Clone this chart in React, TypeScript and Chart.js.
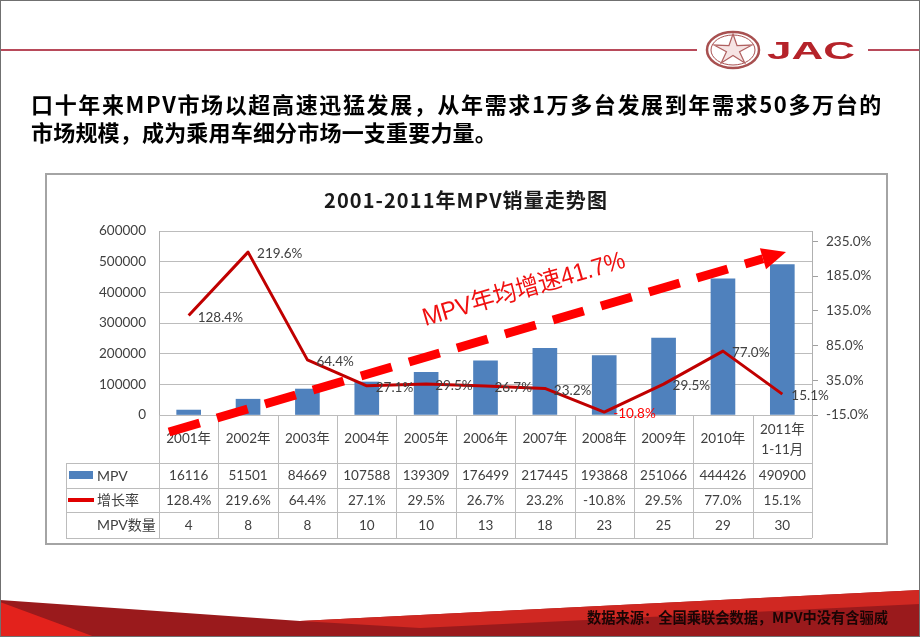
import React, { useEffect, useRef } from 'react';
import { Chart, registerables } from 'chart.js';

Chart.register(...registerables);

// ---------- data ----------
const categories: (string | string[])[] = [
  '2001年', '2002年', '2003年', '2004年', '2005年', '2006年',
  '2007年', '2008年', '2009年', '2010年', ['2011年', '1-11月'],
];
const mpvSales = [16116, 51501, 84669, 107588, 139309, 176499, 217445, 193868, 251066, 444426, 490900];
const growthRate = [128.4, 219.6, 64.4, 27.1, 29.5, 26.7, 23.2, -10.8, 29.5, 77.0, 15.1];
const mpvModelCount = [4, 8, 8, 10, 10, 13, 18, 23, 25, 29, 30];
const salesTicks = [0, 100000, 200000, 300000, 400000, 500000, 600000];
const rateTicks = [-15, 35, 85, 135, 185, 235];
const seriesNames = ['MPV', '增长率', 'MPV数量'];
const headline = [
  '口十年来MPV市场以超高速迅猛发展，从年需求1万多台发展到年需求50多万台的',
  '市场规模，成为乘用车细分市场一支重要力量。',
];
const chartTitle = '2001-2011年MPV销量走势图';
const trendLabel = 'MPV年均增速41.7%';
const sourceNote = '数据来源：全国乘联会数据，MPV中没有含骊威';
const brand = 'JAC';

// ---------- style ----------
const NUM = 'Lato, "Noto Sans CJK SC", sans-serif';
const CJK = '"Noto Sans CJK SC", sans-serif';
const TXT = '#404040';
const GRID = '#bcbcbc';

function fitText(ctx: CanvasRenderingContext2D, text: string, x: number, y: number, width: number) {
  const w = ctx.measureText(text).width;
  ctx.save();
  if (w > width) {
    ctx.translate(x, y);
    ctx.scale(width / w, 1);
    ctx.fillText(text, 0, 0);
  } else {
    const n = Array.from(text).length;
    (ctx as any).letterSpacing = `${(width - w) / n}px`;
    ctx.fillText(text, x, y);
  }
  ctx.restore();
}

function scaleText(ctx: CanvasRenderingContext2D, text: string, x: number, y: number, width: number) {
  const w = ctx.measureText(text).width;
  ctx.save();
  ctx.translate(x, y);
  ctx.scale(width / w, 1);
  ctx.fillText(text, 0, 0);
  ctx.restore();
}

const slidePlugin = {
  id: 'slide',
  beforeDraw(chart: any) {
    const ctx: CanvasRenderingContext2D = chart.ctx;
    ctx.save();
    ctx.fillStyle = '#ffffff';
    ctx.fillRect(0, 0, 920, 637);

    // header rule
    ctx.strokeStyle = '#b84a5a';
    ctx.lineWidth = 2;
    ctx.beginPath();
    ctx.moveTo(0, 50); ctx.lineTo(697, 50);
    ctx.moveTo(868, 50); ctx.lineTo(920, 50);
    ctx.stroke();

    // logo emblem
    ctx.save();
    ctx.translate(733, 50);
    ctx.strokeStyle = '#a85050';
    ctx.lineWidth = 2.5;
    ctx.beginPath(); ctx.ellipse(0, 0, 26, 18, 0, 0, Math.PI * 2); ctx.stroke();
    ctx.lineWidth = 1;
    ctx.beginPath(); ctx.ellipse(0, 0, 22, 15, 0, 0, Math.PI * 2); ctx.stroke();
    ctx.beginPath();
    for (let k = 0; k < 10; k++) {
      const r = k % 2 === 0 ? 16 : 5.5;
      const a = -Math.PI / 2 + (k * Math.PI) / 5;
      const px = Math.cos(a) * r * 1.25, py = Math.sin(a) * r;
      if (k === 0) ctx.moveTo(px, py); else ctx.lineTo(px, py);
    }
    ctx.closePath();
    ctx.fillStyle = '#f6e4e4';
    ctx.fill();
    ctx.strokeStyle = '#b06060';
    ctx.lineWidth = 1.2;
    ctx.stroke();
    ctx.restore();

    ctx.fillStyle = '#b5232a';
    ctx.font = 'bold 24px "Liberation Sans", Arial, sans-serif';
    ctx.textBaseline = 'alphabetic';
    ctx.textAlign = 'left';
    scaleText(ctx, brand, 767, 59, 88);

    // headline
    ctx.fillStyle = '#000000';
    ctx.font = `bold 22px ${CJK}`;
    ctx.textBaseline = 'middle';
    fitText(ctx, headline[0], 31, 105, 852);
    fitText(ctx, headline[1], 31, 133, 466);

    // chart panel
    ctx.strokeStyle = '#a4a4a4';
    ctx.lineWidth = 2;
    ctx.strokeRect(46, 174, 841, 370);

    // chart title
    ctx.fillStyle = '#1a1a1a';
    ctx.font = `bold 20px ${CJK}`;
    ctx.textAlign = 'left';
    fitText(ctx, chartTitle, 324, 200, 284);

    // footer
    ctx.fillStyle = '#9a1a1c';
    ctx.beginPath();
    ctx.moveTo(0, 600); ctx.lineTo(300, 621); ctx.lineTo(920, 590);
    ctx.lineTo(920, 637); ctx.lineTo(0, 637); ctx.closePath();
    ctx.fill();
    ctx.fillStyle = '#d02822';
    ctx.beginPath();
    ctx.moveTo(300, 621); ctx.lineTo(920, 590); ctx.lineTo(920, 604); ctx.lineTo(420, 628);
    ctx.closePath(); ctx.fill();
    ctx.fillStyle = '#e3221c';
    ctx.beginPath();
    ctx.moveTo(0, 602); ctx.lineTo(95, 637); ctx.lineTo(0, 637); ctx.closePath(); ctx.fill();
    ctx.fillStyle = '#1a0505';
    ctx.font = `bold 15px ${CJK}`;
    ctx.textBaseline = 'middle';
    fitText(ctx, sourceNote, 587, 617, 301);

    // frame
    ctx.strokeStyle = '#707070';
    ctx.lineWidth = 1;
    ctx.strokeRect(0.5, 0.5, 919, 636);
    ctx.restore();
  },
  afterDatasetsDraw(chart: any) {
    const ctx: CanvasRenderingContext2D = chart.ctx;
    const area = chart.chartArea;
    const xs = chart.scales.x;
    const ys2 = chart.scales.y2;
    const n = categories.length;
    const cw = (area.right - area.left) / n;
    ctx.save();

    // data table
    const rowTop = Math.round(area.bottom);
    const rows = [463, 488, 512, 538];
    const tableLeft = 66;
    ctx.strokeStyle = GRID;
    ctx.lineWidth = 1;
    ctx.beginPath();
    for (let i = 0; i <= n; i++) {
      const x = Math.round(area.left + i * cw) + 0.5;
      ctx.moveTo(x, rowTop); ctx.lineTo(x, rows[3]);
    }
    ctx.moveTo(tableLeft + 0.5, rows[0]); ctx.lineTo(tableLeft + 0.5, rows[3]);
    for (const r of rows) {
      ctx.moveTo(tableLeft, r + 0.5); ctx.lineTo(area.right, r + 0.5);
    }
    ctx.stroke();

    ctx.fillStyle = TXT;
    ctx.font = `13.5px ${NUM}`;
    ctx.textAlign = 'center';
    ctx.textBaseline = 'middle';
    categories.forEach((c, i) => {
      const x = xs.getPixelForValue(i);
      if (Array.isArray(c)) {
        ctx.fillText(c[0], x, 430);
        ctx.fillText(c[1], x, 450);
      } else {
        ctx.fillText(c, x, 439);
      }
      ctx.fillText(String(mpvSales[i]), x, 476);
      ctx.fillText(growthRate[i].toFixed(1) + '%', x, 500.5);
      ctx.fillText(String(mpvModelCount[i]), x, 525.5);
    });

    // row headers with keys
    ctx.fillStyle = '#4f81bd';
    ctx.fillRect(69, 471, 24, 8);
    ctx.strokeStyle = '#e00000';
    ctx.lineWidth = 4;
    ctx.beginPath(); ctx.moveTo(68, 500); ctx.lineTo(94, 500); ctx.stroke();
    ctx.fillStyle = TXT;
    ctx.font = `14px ${NUM}`;
    ctx.textAlign = 'left';
    ctx.fillText(seriesNames[0], 97, 476);
    ctx.fillText(seriesNames[1], 97, 500.5);
    ctx.fillText(seriesNames[2], 97, 525.5);

    // line data labels
    ctx.font = `13.5px ${NUM}`;
    const lineMeta = chart.getDatasetMeta(1);
    lineMeta.data.forEach((pt: any, i: number) => {
      const v = growthRate[i];
      ctx.fillStyle = v < 0 ? '#ff0000' : TXT;
      ctx.fillText(v.toFixed(1) + '%', pt.x + 9, pt.y + 2);
    });

    // trend arrow
    const sx = 169, sy = 432, tx = 786, ty = 252;
    const ang = Math.atan2(ty - sy, tx - sx);
    const ux = Math.cos(ang), uy = Math.sin(ang);
    const hl = 24, hw = 11;
    const bx = tx - hl * ux, by = ty - hl * uy;
    ctx.strokeStyle = '#ff0000';
    ctx.lineWidth = 9;
    ctx.lineCap = 'butt';
    ctx.setLineDash([32, 18]);
    ctx.beginPath(); ctx.moveTo(sx, sy); ctx.lineTo(bx, by); ctx.stroke();
    ctx.setLineDash([]);
    ctx.fillStyle = '#ff0000';
    ctx.beginPath();
    ctx.moveTo(tx, ty);
    ctx.lineTo(bx - hw * uy, by + hw * ux);
    ctx.lineTo(bx + hw * uy, by - hw * ux);
    ctx.closePath(); ctx.fill();

    ctx.save();
    ctx.translate(524, 290);
    ctx.rotate(ang);
    ctx.fillStyle = '#f01010';
    ctx.font = `25px "Liberation Sans", ${CJK}`;
    ctx.textAlign = 'left';
    ctx.textBaseline = 'middle';
    const tw = ctx.measureText(trendLabel).width;
    ctx.scale(210 / tw, 1);
    ctx.fillText(trendLabel, -tw / 2, 0);
    ctx.restore();

    ctx.restore();
  },
};

export default function App() {
  const ref = useRef<HTMLCanvasElement>(null);
  useEffect(() => {
    const canvas = ref.current!;
    const chart = new Chart(canvas, {
      type: 'bar',
      data: {
        labels: categories as any,
        datasets: [
          {
            type: 'bar',
            label: seriesNames[0],
            data: mpvSales,
            yAxisID: 'y',
            backgroundColor: '#4f81bd',
            barThickness: 24,
            order: 2,
          },
          {
            type: 'line',
            label: seriesNames[1],
            data: growthRate,
            yAxisID: 'y2',
            borderColor: '#c00000',
            borderWidth: 3,
            pointRadius: 0,
            tension: 0,
            borderJoinStyle: 'round',
            order: 1,
          } as any,
        ],
      },
      options: {
        responsive: false,
        devicePixelRatio: 1,
        animation: false,
        events: [],
        layout: { padding: { top: 231, bottom: 222, left: 0, right: 0 } },
        plugins: { legend: { display: false }, tooltip: { enabled: false }, title: { display: false } },
        scales: {
          x: { display: false, offset: true },
          y: {
            position: 'left',
            min: 0,
            max: 600000,
            afterBuildTicks: (s: any) => { s.ticks = salesTicks.map((v) => ({ value: v })); },
            afterFit: (s: any) => { s.width = 159; },
            grid: { color: GRID, drawTicks: false },
            border: { display: true, color: '#b0b0b0' },
            ticks: { padding: 13, color: TXT, font: { family: NUM, size: 13.5 }, callback: (v: any) => String(v) },
          },
          y2: {
            position: 'right',
            min: -15,
            max: 250,
            afterBuildTicks: (s: any) => { s.ticks = rateTicks.map((v) => ({ value: v })); },
            afterFit: (s: any) => { s.width = 108; },
            grid: { drawOnChartArea: false, color: '#a0a0a0', tickLength: 6 },
            border: { display: true, color: '#b0b0b0' },
            ticks: { padding: 8, color: TXT, font: { family: NUM, size: 13.5 }, callback: (v: any) => Number(v).toFixed(1) + '%' },
          },
        },
      } as any,
      plugins: [slidePlugin],
    });
    return () => chart.destroy();
  }, []);
  return (
    <div style={{ position: 'fixed', left: 0, top: 0, width: 920, height: 637, background: '#fff' }}>
      <canvas ref={ref} width={920} height={637} style={{ display: 'block' }} />
    </div>
  );
}
